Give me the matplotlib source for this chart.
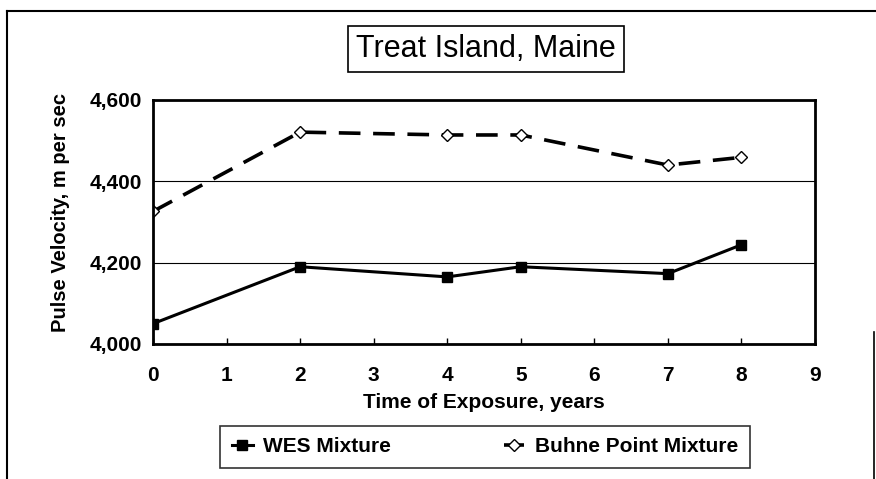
import matplotlib.pyplot as plt
from matplotlib.lines import Line2D
from matplotlib.ticker import FuncFormatter

# data
years = [0, 2, 4, 5, 7, 8]
wes_mix = [4050, 4190, 4165, 4190, 4173, 4244]
buhne_mix = [4326, 4521, 4514, 4514, 4440, 4459]
x_ticks = list(range(0, 10))
y_ticks = [4000, 4200, 4400, 4600]

plt.rcParams['font.family'] = ['Liberation Sans', 'DejaVu Sans']

W, H = 876, 479
fig = plt.figure(figsize=(W / 100, H / 100), dpi=100)
ax = fig.add_axes([153 / W, 1 - 344 / H, (815 - 153) / W, (344 - 100) / H])

ax.plot(years, wes_mix, color='black', lw=2.2, marker='s', ms=7.5,
        mfc='black', mec='black', label='WES Mixture')
ax.plot(years, buhne_mix, color='black', lw=2.6, ls=(0, (6, 3.5)), marker='D', ms=6,
        mfc='white', mec='black', mew=1, label='Buhne Point Mixture')

ax.set_xlim(0, 9)
ax.set_ylim(4000, 4600)
ax.set_xticks(x_ticks)
ax.set_yticks(y_ticks)
ax.yaxis.set_major_formatter(FuncFormatter(lambda v, p: f'{int(v):,}'))
ax.yaxis.grid(True, color='black', lw=0.8)
ax.tick_params(axis='x', direction='in', length=4, width=1, pad=16, labelsize=15)
ax.tick_params(axis='y', length=0, pad=8, labelsize=15)
for lab in ax.get_xticklabels() + ax.get_yticklabels():
    lab.set_fontweight('bold')
for s in ax.spines.values():
    s.set_linewidth(2)

ax.set_xlabel('Time of Exposure, years', fontsize=15, fontweight='bold')
ax.xaxis.set_label_coords(0.5, -0.20)
ax.set_ylabel('Pulse Velocity, m per sec', fontsize=14.5, fontweight='bold')
ax.yaxis.set_label_coords(-0.125, 0.54)

fig.text(486 / W, 1 - 49 / H, 'Treat Island, Maine', fontsize=22,
         ha='center', va='center',
         bbox=dict(boxstyle='square,pad=0.25', fc='white', ec='black', lw=1.2))

leg = fig.legend(loc='center', bbox_to_anchor=(485 / W, 1 - 447 / H), ncol=2,
                 frameon=True, fancybox=False, edgecolor='black',
                 handlelength=1.0, handletextpad=0.5, columnspacing=5.4, borderpad=0.55,
                 prop={'weight': 'bold', 'size': 15})
leg.get_frame().set_linewidth(1.2)

# outer frame of the scanned page
fig.add_artist(Line2D([7 / W, 7 / W], [0, 1 - 11 / H], color='black', lw=1.5))
fig.add_artist(Line2D([7 / W, 1], [1 - 11 / H, 1 - 11 / H], color='black', lw=1.5))
fig.add_artist(Line2D([874 / W, 874 / W], [0, 1 - 332 / H], color='black', lw=1.2))

fig.savefig('out.png', dpi=100)
